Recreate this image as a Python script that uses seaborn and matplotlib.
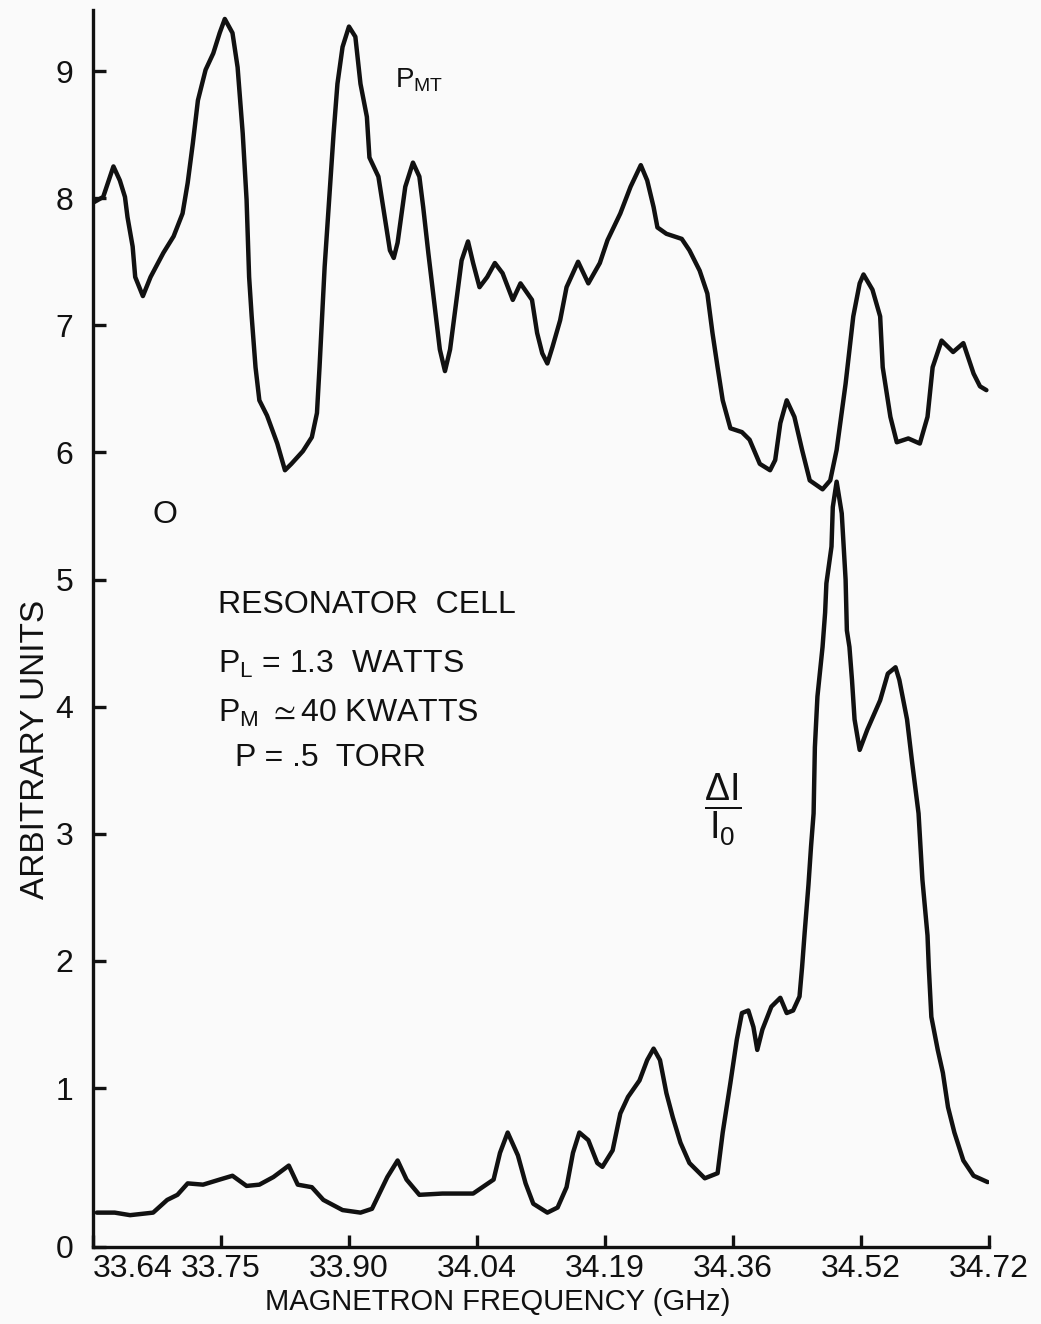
import matplotlib.pyplot as plt
import pandas as pd
import seaborn as sns

# frequency ticks are evenly spaced along the sweep, so x is read in tick divisions
freq_labels = ["33.64", "33.75", "33.90", "34.04", "34.19", "34.36", "34.52", "34.72"]
y_ticks = [1, 2, 3, 4, 5, 6, 7, 8, 9]

# P_MT trace (upper curve)
pmt_pos = [0.01, 0.08, 0.16, 0.21, 0.25, 0.27, 0.31, 0.33, 0.39, 0.45,
           0.55, 0.63, 0.70, 0.74, 0.78, 0.82, 0.88, 0.94, 0.99, 1.03,
           1.09, 1.13, 1.17, 1.20, 1.22, 1.24, 1.27, 1.30, 1.36, 1.44,
           1.50, 1.55, 1.64, 1.71, 1.75, 1.77, 1.79, 1.81, 1.84, 1.88,
           1.91, 1.95, 2.00, 2.05, 2.09, 2.14, 2.16, 2.23, 2.27, 2.32,
           2.35, 2.38, 2.44, 2.50, 2.55, 2.58, 2.62, 2.67, 2.71, 2.75,
           2.79, 2.84, 2.88, 2.93, 2.97, 3.02, 3.08, 3.14, 3.20, 3.28,
           3.34, 3.43, 3.47, 3.51, 3.55, 3.59, 3.65, 3.70, 3.79, 3.87,
           3.96, 4.02, 4.12, 4.20, 4.28, 4.33, 4.38, 4.41, 4.48, 4.60,
           4.66, 4.74, 4.80, 4.84, 4.88, 4.92, 4.98, 5.07, 5.13, 5.21,
           5.29, 5.33, 5.37, 5.42, 5.48, 5.54, 5.60, 5.70, 5.76, 5.81,
           5.88, 5.94, 5.99, 6.02, 6.09, 6.15, 6.17, 6.23, 6.28, 6.37,
           6.46, 6.52, 6.56, 6.63, 6.72, 6.80, 6.88, 6.93, 6.98]
pmt_val = [7.97, 8.01, 8.25, 8.14, 8.01, 7.85, 7.62, 7.38, 7.23, 7.38,
           7.57, 7.70, 7.88, 8.12, 8.43, 8.77, 9.01, 9.14, 9.30, 9.41,
           9.30, 9.03, 8.51, 7.99, 7.38, 7.07, 6.67, 6.41, 6.29, 6.07,
           5.86, 5.91, 6.01, 6.12, 6.31, 6.67, 7.07, 7.46, 7.91, 8.51,
           8.90, 9.19, 9.35, 9.27, 8.90, 8.64, 8.32, 8.17, 7.91, 7.59,
           7.53, 7.65, 8.09, 8.28, 8.17, 7.93, 7.57, 7.15, 6.81, 6.64,
           6.81, 7.20, 7.51, 7.66, 7.49, 7.30, 7.38, 7.49, 7.41, 7.20,
           7.33, 7.20, 6.94, 6.78, 6.70, 6.83, 7.04, 7.30, 7.50, 7.33,
           7.49, 7.67, 7.88, 8.09, 8.26, 8.14, 7.93, 7.77, 7.72, 7.68,
           7.59, 7.43, 7.25, 6.94, 6.67, 6.41, 6.19, 6.16, 6.10, 5.91,
           5.86, 5.94, 6.23, 6.41, 6.28, 6.02, 5.78, 5.71, 5.78, 6.02,
           6.54, 7.07, 7.33, 7.40, 7.28, 7.07, 6.67, 6.28, 6.08, 6.11,
           6.07, 6.28, 6.67, 6.88, 6.79, 6.86, 6.62, 6.52, 6.49]

# delta I / I0 trace (lower curve)
di_pos = [0.03, 0.17, 0.29, 0.47, 0.58, 0.66, 0.74, 0.86, 0.99, 1.09,
          1.20, 1.30, 1.41, 1.53, 1.60, 1.71, 1.80, 1.95, 2.09, 2.18,
          2.30, 2.38, 2.45, 2.55, 2.73, 2.97, 3.13, 3.18, 3.24, 3.32,
          3.38, 3.44, 3.55, 3.63, 3.70, 3.75, 3.80, 3.87, 3.94, 3.98,
          4.06, 4.12, 4.18, 4.27, 4.33, 4.38, 4.43, 4.48, 4.53, 4.59,
          4.66, 4.78, 4.88, 4.92, 4.98, 5.03, 5.07, 5.12, 5.16, 5.19,
          5.23, 5.30, 5.37, 5.42, 5.47, 5.52, 5.54, 5.56, 5.59, 5.61,
          5.63, 5.64, 5.66, 5.70, 5.72, 5.73, 5.77, 5.78, 5.81, 5.85,
          5.88, 5.89, 5.91, 5.93, 5.95, 5.99, 6.05, 6.15, 6.21, 6.27,
          6.30, 6.36, 6.40, 6.45, 6.48, 6.52, 6.53, 6.55, 6.60, 6.64,
          6.68, 6.73, 6.80, 6.88, 6.99]
di_val = [0.02, 0.02, 0.00, 0.02, 0.12, 0.16, 0.25, 0.24, 0.28, 0.31,
          0.23, 0.24, 0.30, 0.39, 0.24, 0.22, 0.12, 0.04, 0.02, 0.05,
          0.30, 0.43, 0.28, 0.16, 0.17, 0.17, 0.28, 0.49, 0.65, 0.47,
          0.25, 0.09, 0.02, 0.06, 0.22, 0.49, 0.65, 0.59, 0.41, 0.38,
          0.51, 0.80, 0.93, 1.06, 1.22, 1.31, 1.22, 0.96, 0.77, 0.57,
          0.41, 0.29, 0.33, 0.65, 1.04, 1.38, 1.59, 1.61, 1.48, 1.30,
          1.46, 1.64, 1.71, 1.59, 1.61, 1.72, 1.95, 2.22, 2.60, 2.90,
          3.16, 3.68, 4.08, 4.47, 4.74, 4.97, 5.26, 5.57, 5.77, 5.52,
          5.00, 4.60, 4.47, 4.21, 3.90, 3.66, 3.82, 4.05, 4.26, 4.31,
          4.21, 3.90, 3.56, 3.16, 2.64, 2.20, 1.95, 1.56, 1.30, 1.12,
          0.85, 0.65, 0.43, 0.31, 0.26]

df_pmt = pd.DataFrame({'pos': pmt_pos, 'value': pmt_val})
df_di = pd.DataFrame({'pos': di_pos, 'value': di_val})

sns.set_style("ticks")
plt.rcParams['font.family'] = ['Liberation Sans', 'DejaVu Sans']
plt.rcParams['mathtext.fontset'] = 'custom'
plt.rcParams['mathtext.rm'] = 'Liberation Sans'
plt.rcParams['mathtext.it'] = 'Liberation Sans'
plt.rcParams['mathtext.bf'] = 'Liberation Sans:bold'
plt.rcParams['mathtext.fallback'] = 'stixsans'

paper = '#fafafa'
ink = '#111111'

fig = plt.figure(figsize=(10.41, 13.24), dpi=100, facecolor=paper)
ax = fig.add_axes([0.0893, 0.0582, 0.8607, 0.9342])
ax.set_facecolor(paper)

line_kw = dict(color=ink, linewidth=3.2, sort=False, estimator=None, ax=ax,
               solid_joinstyle='round', solid_capstyle='round')
sns.lineplot(data=df_pmt, x='pos', y='value', **line_kw)
sns.lineplot(data=df_di, x='pos', y='value', **line_kw)

ax.set_xlim(0, 7)
ax.set_ylim(-0.25, 9.48)

ax.set_xticks(range(len(freq_labels)))
ax.set_xticklabels(freq_labels)
ax.get_xticklabels()[0].set_horizontalalignment('left')
ax.set_yticks([-0.25] + y_ticks)
ax.set_yticklabels(["0"] + [str(t) for t in y_ticks])

ax.tick_params(direction='in', length=9, width=2.4, color=ink,
               labelsize=23, labelcolor=ink)
ax.tick_params(axis='y', pad=14)
ax.tick_params(axis='x', pad=5)

sns.despine(ax=ax)
for side in ['left', 'bottom']:
  ax.spines[side].set_linewidth(2.4)
  ax.spines[side].set_color(ink)

ax.set_xlabel("MAGNETRON FREQUENCY (GHz)", fontsize=21, color=ink)
ax.set_ylabel("ARBITRARY UNITS", fontsize=24, color=ink)
ax.xaxis.set_label_coords(0.452, -0.033)
ax.yaxis.set_label_coords(-0.047, 0.402)

# annotations
ax.text(2.36, 8.93, r'$P_{MT}$', fontsize=20, color=ink, va='center')
ax.text(0.56, 5.51, "O", fontsize=23, color=ink, ha='center', va='center')
ax.text(0.98, 4.80, "RESONATOR  CELL", fontsize=23, color=ink, va='center')
ax.text(0.98, 4.33, r"$P_L$ = 1.3  WATTS", fontsize=23, color=ink, va='center')
ax.text(0.98, 3.95, r"$P_M$ $\simeq$40 KWATTS", fontsize=23, color=ink,
        va='center')
ax.text(1.11, 3.60, "P = .5  TORR", fontsize=23, color=ink, va='center')
ax.text(4.92, 3.19, r'$\dfrac{\Delta I}{I_0}$', fontsize=27, color=ink,
        ha='center', va='center')

fig.savefig('out.png', dpi=100, facecolor=paper)
